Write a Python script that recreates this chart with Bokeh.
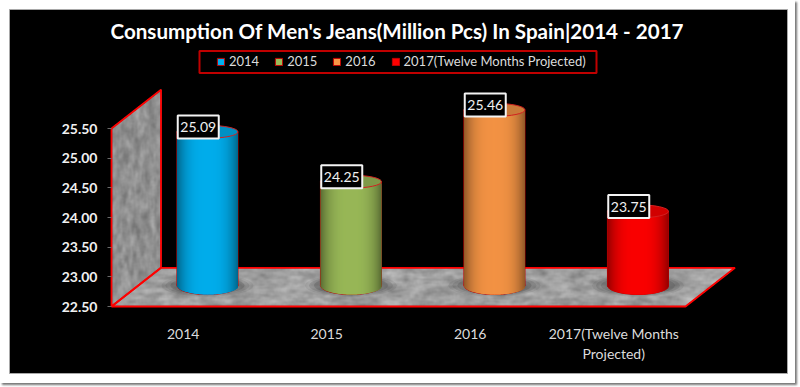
import numpy as np
from bokeh.plotting import figure
from bokeh.models import Range1d, FixedTicker, Label, Legend, LegendItem, LinearAxis
from bokeh.embed import file_html
from bokeh.resources import INLINE

# ---- data -------------------------------------------------------------
title = "Consumption Of Men's Jeans(Million Pcs) In Spain|2014 - 2017"
series = ["2014", "2015", "2016", "2017(Twelve Months Projected)"]
categories = ["2014", "2015", "2016", "2017(Twelve Months\nProjected)"]
values = [25.09, 24.25, 25.46, 23.75]
colors = ["#00b0f0", "#9bbb59", "#f79646", "#ff0000"]
y_ticks = [22.5, 23.0, 23.5, 24.0, 24.5, 25.0, 25.5]

# ---- layout (page pixels) ----------------------------------------------
FIG_W, FIG_H = 795, 383
BLACK_L, BLACK_T, BLACK_R, BLACK_B = 9, 9, 787, 373
AXIS_X = 111          # page x of the front-left floor corner
AXIS_Y = 306          # page y of value 22.5
CAT_PX = 143.5        # pixels per category
VAL_PX = 178 / 3.0    # pixels per value unit
DEPTH_X, DEPTH_Y = 49.5, 38.7
BAR_W = 61
BAR_DX, BAR_DY = 24.2, 21
RY_TOP, RY_BOT = 6.5, 9
FONT = "Lato"


def xd(px):
    return -0.5 + (px - AXIS_X) / CAT_PX


def yd(py):
    return 22.5 + (AXIS_Y - py) / VAL_PX


p = figure(width=FIG_W, height=FIG_H, output_backend="svg", toolbar_location=None,
           x_range=Range1d(xd(BLACK_L), xd(BLACK_R)), y_range=Range1d(yd(BLACK_B), yd(BLACK_T)),
           background_fill_color="black", border_fill_color="white",
           outline_line_color="#a8a8a8", outline_line_width=1,
           x_axis_type=None, y_axis_type=None,
           min_border_left=BLACK_L, min_border_right=FIG_W - BLACK_R,
           min_border_top=BLACK_T, min_border_bottom=FIG_H - BLACK_B,
           styles={"box-shadow": "2px 2px 2px #777777"})
p.xgrid.visible = False
p.ygrid.visible = False

# ---- axes --------------------------------------------------------------
yaxis = LinearAxis(ticker=FixedTicker(ticks=y_ticks), fixed_location=-0.5,
                   major_label_overrides={t: f"{t:.2f}" for t in y_ticks})
yaxis.axis_line_color = None
yaxis.minor_tick_line_color = None
yaxis.major_tick_line_color = "#6a6a6a"
yaxis.major_tick_out = 4
yaxis.major_tick_in = 0
yaxis.major_label_standoff = 10
yaxis.major_label_text_color = "#f0f0f0"
yaxis.major_label_text_font = FONT
yaxis.major_label_text_font_style = "bold"
yaxis.major_label_text_font_size = "14px"
p.add_layout(yaxis, "left")

xaxis = LinearAxis(ticker=FixedTicker(ticks=list(range(len(categories)))), fixed_location=22.5,
                   major_label_overrides={i: c for i, c in enumerate(categories)})
xaxis.axis_line_color = None
xaxis.minor_tick_line_color = None
xaxis.major_tick_line_color = None
xaxis.major_tick_out = 0
xaxis.major_tick_in = 0
xaxis.major_label_standoff = 18
xaxis.major_label_text_color = "#dcdcdc"
xaxis.major_label_text_font = FONT
xaxis.major_label_text_font_size = "14px"
p.add_layout(xaxis, "below")

# ---- wall and floor ----------------------------------------------------
dx = DEPTH_X / CAT_PX
dy = DEPTH_Y / VAL_PX
x0, x1 = -0.5, len(categories) - 0.5
v0, v1 = y_ticks[0], y_ticks[-1]


def mottled(shape, cell_x, cell_y, seed):
    """Stone look: a smoothed hash pattern, purely decorative."""
    h, w = shape
    yy, xx = np.mgrid[0:h, 0:w]
    cell = (xx // cell_x) * 12.9898 + (yy // cell_y) * 78.233 + seed
    n = np.abs(np.modf(np.sin(cell) * 43758.5453)[0])
    kx = np.ones(cell_x * 2 + 1) / (cell_x * 2 + 1)
    ky = np.ones(cell_y * 2 + 1) / (cell_y * 2 + 1)
    n = np.apply_along_axis(lambda a: np.convolve(a, kx, "same"), 1, n)
    n = np.apply_along_axis(lambda a: np.convolve(a, ky, "same"), 0, n)
    return n


# texture picture spanning the bounding box of wall + floor, row 0 at the bottom
tex_w = int(round((x1 - x0) * CAT_PX + DEPTH_X))
tex_h = int(round((v1 - v0) * VAL_PX + DEPTH_Y))
py, px = np.mgrid[0:tex_h, 0:tex_w] + 0.5
floor_mask = (py <= DEPTH_Y) & (px >= py * DEPTH_X / DEPTH_Y) & \
             (px <= (x1 - x0) * CAT_PX + py * DEPTH_X / DEPTH_Y)
wall_mask = (px <= DEPTH_X) & (py >= px * DEPTH_Y / DEPTH_X) & \
            (py <= (v1 - v0) * VAL_PX + px * DEPTH_Y / DEPTH_X)
wall_tex = 143 + 75 * (mottled((tex_h, tex_w), 2, 5, 1.3) - 0.5) + 45 * (mottled((tex_h, tex_w), 1, 2, 7.7) - 0.5)
floor_tex = 160 + 75 * (mottled((tex_h, tex_w), 6, 2, 3.1) - 0.5) + 45 * (mottled((tex_h, tex_w), 2, 1, 9.2) - 0.5)
gray = np.where(floor_mask, floor_tex, wall_tex).clip(0, 255).astype(np.uint32)
alpha = np.where(floor_mask | wall_mask, 255, 0).astype(np.uint32)
rgba = gray | (gray << 8) | (gray << 16) | (alpha << 24)
p.image_rgba(image=[rgba], x=x0, y=v0, dw=tex_w / CAT_PX, dh=tex_h / VAL_PX)

edge = dict(fill_color=None, line_color="#ff0000", line_width=1.8)
p.patch([x0, x0 + dx, x0 + dx, x0], [v1, v1 + dy, v0 + dy, v0], **edge)
p.patch([x0, x0 + dx, x1 + dx, x1], [v0, v0 + dy, v0 + dy, v0], **edge)


# ---- cylinders ---------------------------------------------------------
def shade(hex_color, f):
    rgb = np.array([int(hex_color[i:i + 2], 16) for i in (1, 3, 5)], dtype=float)
    return "#%02x%02x%02x" % tuple(np.clip(rgb * f, 0, 255).astype(int))


off_x = BAR_DX / CAT_PX
off_y = BAR_DY / VAL_PX
half = BAR_W / 2 / CAT_PX
us = np.linspace(-1, 1, BAR_W + 1)
legend_items = []

for i, (name, val, col) in enumerate(zip(series, values, colors)):
    cx = i + off_x
    base = v0 + off_y
    top = val + off_y

    # soft shadow on the floor
    for w, h, a in [(92, 22, 0.10), (84, 20, 0.14), (74, 18, 0.20)]:
        p.ellipse([cx], [base], width=w, height=h, width_units="screen",
                  height_units="screen", fill_color="#303030", fill_alpha=a, line_color=None)

    # solid body (also what the legend shows)
    body = p.quad(left=[cx - half], right=[cx + half], top=[top], bottom=[base],
                  fill_color=col, line_color="#c00000", line_width=1)
    legend_items.append(LegendItem(label=name, renderers=[body]))
    p.ellipse([cx], [base], width=BAR_W, height=2 * RY_BOT, width_units="screen",
              height_units="screen", fill_color=col, line_color="#c00000", line_width=1)

    # vertical strips make the round shading
    mid = (us[:-1] + us[1:]) / 2
    root = np.sqrt(1 - mid ** 2)
    f = 0.58 + 0.40 * (1 - np.abs(mid) ** 3)
    right_edge = np.minimum(us[1:] * half + 1.2 / CAT_PX, half)
    p.quad(left=cx + us[:-1] * half, right=cx + right_edge,
           top=top - RY_TOP * root / VAL_PX, bottom=base - RY_BOT * root / VAL_PX,
           fill_color=[shade(col, v) for v in f], line_color=None)

    # top cap
    p.ellipse([cx], [top], width=BAR_W, height=2 * RY_TOP, width_units="screen",
              height_units="screen", fill_color=shade(col, 0.82),
              line_color="#d02020", line_width=1)

    # value label
    lx = cx - 9.2 / CAT_PX
    ly = top + 4.8 / VAL_PX
    p.rect([lx], [ly], width=41, height=23, width_units="screen", height_units="screen",
           fill_color="black", line_color="#f4f4f4", line_width=2)
    p.add_layout(Label(x=lx, y=ly, text=f"{val:.2f}", text_color="#f0f0f0", text_font=FONT,
                       text_font_size="14px", text_align="center", text_baseline="middle"))

# ---- title -------------------------------------------------------------
p.add_layout(Label(x=xd(397), y=yd(30), text=title, text_color="white", text_font=FONT,
                   text_font_style="bold", text_font_size="20.6px",
                   text_align="center", text_baseline="middle"))

# ---- legend ------------------------------------------------------------
p.quad(left=[xd(199)], right=[xd(596)], top=[yd(50.5)], bottom=[yd(72.5)],
       fill_color=None, line_color="#c00000", line_width=2)
legend = Legend(items=legend_items, orientation="horizontal",
                location=(216 - BLACK_L, BLACK_B - 69),
                background_fill_alpha=0, border_line_color=None,
                label_text_color="#dcdcdc", label_text_font=FONT,
                label_text_font_size="13px", glyph_width=9, glyph_height=9,
                label_standoff=4, spacing=15, padding=0, margin=0,
                label_height=11)
p.add_layout(legend)

open("out.html", "w").write(file_html(p, INLINE))
